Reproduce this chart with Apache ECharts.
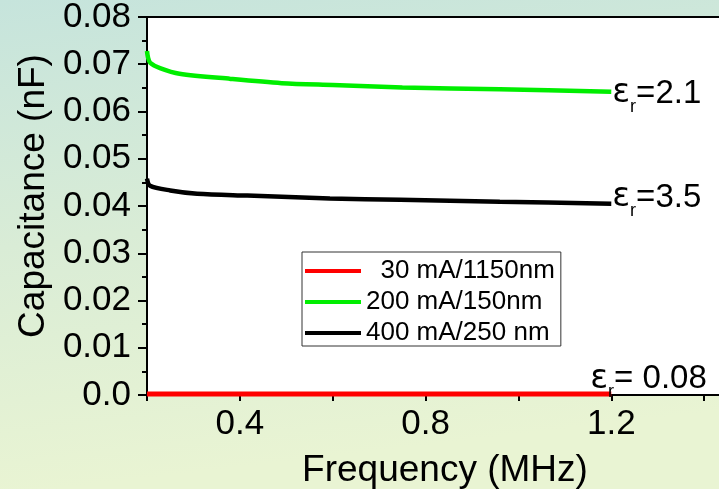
<!DOCTYPE html>
<html lang="en">
<head>
    <meta charset="UTF-8">
    <title>Capacitance vs Frequency</title>
    <script src="https://cdn.jsdelivr.net/npm/echarts@6/dist/echarts.min.js"></script>
    <style>
        html, body { margin: 0; padding: 0; }
        #myChart { width: 719px; height: 489px; }
    </style>
</head>
<body>
<div id="myChart"></div>
<script type="text/javascript">
    // data (frequency in MHz, capacitance in nF)
    var seriesNames = ['30 mA/1150nm', '200 mA/150nm', '400 mA/250 nm'];
    var epsLabels = ['= 0.08', '=2.1', '=3.5'];

    var freqRed = [0.2, 0.4, 0.6, 0.8, 1.0, 1.2];
    var capRed = [0.0002, 0.0002, 0.0002, 0.0002, 0.0002, 0.0002];

    var freqGreen = [0.2, 0.202, 0.207, 0.228, 0.27, 0.38, 0.49, 0.6, 0.75, 0.96, 1.2];
    var capGreen = [0.0728, 0.0715, 0.0703, 0.0692, 0.068, 0.0669, 0.066, 0.0656, 0.0651, 0.0647, 0.0642];

    var freqBlack = [0.2, 0.2065, 0.25, 0.308, 0.416, 0.594, 0.745, 0.96, 1.2];
    var capBlack = [0.0458, 0.0443, 0.0433, 0.0426, 0.0422, 0.0416, 0.0413, 0.0409, 0.0405];

    var FONT = 'Liberation Sans';

    function pairs(xs, ys) {
        var out = [];
        for (var i = 0; i < xs.length; i++) {
            out.push([xs[i], ys[i]]);
        }
        return out;
    }

    function epsLabel(idx, offset) {
        return {
            show: true,
            distance: 1,
            offset: offset,
            formatter: '{e|ε}{s|r}{v|' + epsLabels[idx] + '}',
            rich: {
                e: { fontFamily: 'DejaVu Sans', fontSize: 33, color: '#000', lineHeight: 44 },
                s: { fontFamily: FONT, fontSize: 18, color: '#000', lineHeight: 16, verticalAlign: 'bottom' },
                v: { fontFamily: FONT, fontSize: 33, color: '#000', lineHeight: 44 }
            }
        };
    }

    var myChart = echarts.init(document.getElementById('myChart'));

    var option = {
        animation: false,
        backgroundColor: {
            type: 'linear', x: 0, y: 0, x2: 0.08, y2: 1,
            colorStops: [
                { offset: 0, color: '#c6e4dc' },
                { offset: 0.5, color: '#d9ecd6' },
                { offset: 1, color: '#e9f4d3' }
            ]
        },
        grid: {
            left: 147, top: 17, right: -78, bottom: 94,
            outerBoundsMode: 'none',
            show: true,
            backgroundColor: '#fff',
            borderColor: '#000',
            borderWidth: 2
        },
        legend: {
            orient: 'vertical',
            left: 302, top: 252,
            padding: [6, 6, 0, 3],
            icon: 'rect',
            itemWidth: 56, itemHeight: 4, itemGap: 5,
            backgroundColor: '#fff',
            borderColor: '#333',
            borderWidth: 1,
            borderRadius: 0,
            data: seriesNames,
            formatter: function (name) {
                return name === seriesNames[0] ? '  ' + name : name;
            },
            textStyle: { fontFamily: FONT, fontSize: 26, lineHeight: 26, color: '#000' }
        },
        xAxis: {
            type: 'value',
            min: 0.2, max: 1.6, interval: 0.2,
            name: 'Frequency (MHz)',
            nameLocation: 'middle',
            nameGap: 57,
            nameTextStyle: { fontFamily: FONT, fontSize: 37, color: '#000', padding: [0, 54, 0, 0] },
            splitLine: { show: false },
            axisLine: { onZero: false, lineStyle: { color: '#000', width: 2 } },
            axisTick: { show: true, inside: false, length: 6, lineStyle: { color: '#000', width: 2 } },
            axisLabel: {
                margin: 12,
                fontFamily: FONT, fontSize: 35, color: '#000',
                formatter: function (v) {
                    var k = Math.round(v * 10);
                    return k % 4 === 0 ? (k / 10).toFixed(1) : '';
                }
            }
        },
        yAxis: {
            type: 'value',
            min: 0, max: 0.08, interval: 0.01,
            name: 'Capacitance (nF)',
            nameLocation: 'middle',
            nameGap: 92,
            nameTextStyle: { fontFamily: FONT, fontSize: 37, color: '#000', padding: [0, 0, 0, 20] },
            splitLine: { show: false },
            axisLine: { show: true, onZero: false, lineStyle: { color: '#000', width: 2 } },
            axisTick: { show: true, inside: false, length: 9, lineStyle: { color: '#000', width: 2 } },
            minorTick: { show: true, splitNumber: 2, length: 5, lineStyle: { color: '#000', width: 2 } },
            axisLabel: {
                margin: 16,
                fontFamily: FONT, fontSize: 35, color: '#000',
                formatter: function (v) {
                    return v === 0 ? '0.0' : v.toFixed(2);
                }
            }
        },
        series: [
            {
                name: seriesNames[0],
                type: 'line',
                data: pairs(freqRed, capRed),
                symbol: 'none',
                color: '#ff0000',
                lineStyle: { color: '#ff0000', width: 5 },
                z: 5,
                endLabel: epsLabel(0, [-22, -15])
            },
            {
                name: seriesNames[1],
                type: 'line',
                data: pairs(freqGreen, capGreen),
                symbol: 'none',
                smooth: 0.3,
                color: '#00ee00',
                lineStyle: { color: '#00ee00', width: 4.5 },
                endLabel: epsLabel(1, [0, 2])
            },
            {
                name: seriesNames[2],
                type: 'line',
                data: pairs(freqBlack, capBlack),
                symbol: 'none',
                smooth: 0.3,
                color: '#000',
                lineStyle: { color: '#000', width: 4.5 },
                endLabel: epsLabel(2, [0, -6])
            }
        ]
    };

    myChart.setOption(option);
</script>
</body>
</html>
